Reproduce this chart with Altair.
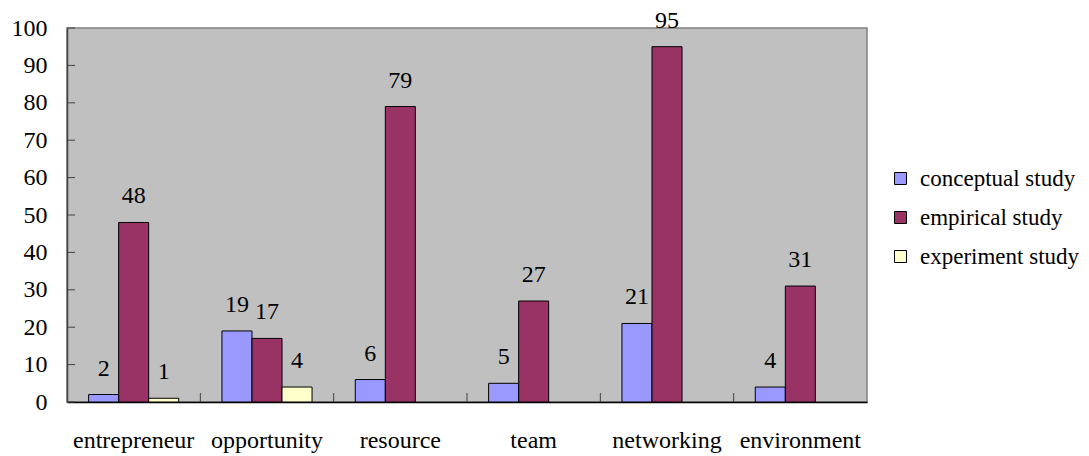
import altair as alt
import pandas as pd

categories = ["entrepreneur", "opportunity", "resource", "team", "networking", "environment"]
series = ["conceptual study", "empirical study", "experiment study"]
conceptual = [2, 19, 6, 5, 21, 4]
empirical = [48, 17, 79, 27, 95, 31]
experiment = [1, 4, None, None, None, None]
colors = ["#9999FF", "#993366", "#FFFFCC"]
y_ticks = list(range(0, 101, 10))

rows = []
for s, vals in zip(series, [conceptual, empirical, experiment]):
    for c, v in zip(categories, vals):
        if v is not None:
            rows.append({"category": c, "series": s, "value": v})
df = pd.DataFrame(rows)
tick_df = pd.DataFrame({"v": y_ticks})
cat_df = pd.DataFrame({"category": categories[1:]})

W, H = 800, 374
FONT = "Liberation Serif"

yscale = alt.Scale(domain=[0, 100], nice=False)
xscale = alt.Scale(domain=categories, paddingInner=0, paddingOuter=0)
xoff = alt.XOffset("series:N", sort=series,
                   scale=alt.Scale(domain=series, paddingInner=0, paddingOuter=0.72))

xaxis = alt.Axis(title=None, labelAngle=0, ticks=False, domainColor="black",
                 domainWidth=1.5, labelPadding=26, labelBaseline="top",
                 labelFont=FONT, labelFontSize=24, labelColor="black")
yaxis = alt.Axis(title=None, values=y_ticks, ticks=False, grid=False,
                 domainColor="#404040", domainWidth=1.5, labelPadding=20,
                 labelFont=FONT, labelFontSize=24, labelColor="black",
                 labelOverlap=False)

base = alt.Chart(df)

bars = base.mark_bar(stroke="black", strokeWidth=1).encode(
    x=alt.X("category:N", sort=categories, scale=xscale, axis=xaxis, title=None),
    xOffset=xoff,
    y=alt.Y("value:Q", scale=yscale, axis=yaxis, title=None),
    color=alt.Color("series:N", sort=series, scale=alt.Scale(domain=series, range=colors),
                    legend=alt.Legend(title=None, orient="none", legendX=822, legendY=139,
                                      symbolType="square", symbolSize=144,
                                      symbolStrokeColor="black", symbolStrokeWidth=1,
                                      labelFont=FONT, labelFontSize=23, labelColor="black",
                                      rowPadding=15, labelOffset=8, labelLimit=300)),
)

labels = base.mark_text(baseline="alphabetic", dy=-19, font=FONT,
                        fontSize=24, color="black").encode(
    x=alt.X("category:N", sort=categories, scale=xscale, axis=xaxis, title=None),
    xOffset=xoff,
    y=alt.Y("value:Q", scale=yscale, axis=yaxis, title=None),
    text=alt.Text("value:Q"),
)

yticks = alt.Chart(tick_df).mark_rule(color="#404040", strokeWidth=1).encode(
    y=alt.Y("v:Q", scale=yscale, axis=yaxis, title=None),
    x=alt.value(0),
    x2=alt.value(8),
)

xticks = alt.Chart(cat_df).mark_rule(color="#404040", strokeWidth=1).encode(
    x=alt.X("category:N", sort=categories, scale=xscale, bandPosition=0, axis=xaxis, title=None),
    y=alt.value(H - 9),
    y2=alt.value(H),
)

chart = alt.layer(bars, labels, yticks, xticks).properties(
    width=W, height=H,
    autosize=alt.AutoSizeParams(type="none"),
    padding={"left": 67, "top": 28, "right": 222, "bottom": 54},
    background="white",
).configure_view(
    fill="#C0C0C0", stroke="#808080", strokeWidth=1.5
)

chart.save("out.html", embed_options={"renderer": "svg", "actions": False})
